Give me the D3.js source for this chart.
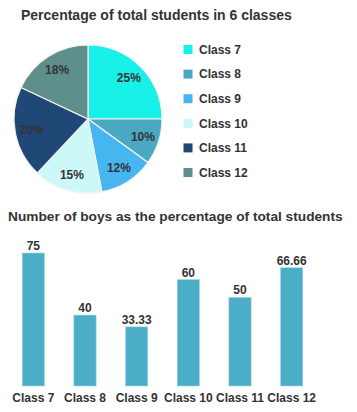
<!DOCTYPE html>
<html><head><meta charset="utf-8">
<script src="https://cdn.jsdelivr.net/npm/d3@7"></script>
<style>
html,body{margin:0;padding:0;background:#fff;}
text{font-family:"Liberation Sans",Arial,sans-serif;font-weight:bold;fill:#333;}
</style></head>
<body><svg id="c" width="357" height="412"></svg>
<script>
const classes = ["Class 7","Class 8","Class 9","Class 10","Class 11","Class 12"];
const totalPct = [25,10,12,15,20,18];
const boysPct = [75,40,33.33,60,50,66.66];
const boysLabels = ["75","40","33.33","60","50","66.66"];
const pieColors = ["#18F0E8","#4BA8C2","#45B6F0","#CCF8F8","#1F4877","#5F8F8B"];
const barColor = "#4BADC6";

const svg = d3.select("#c");

// Pie chart
svg.append("text").attr("x",21).attr("y",20).attr("font-size",14).text("Percentage of total students in 6 classes");
const cx=88, cy=119, R=74;
const pie = d3.pie().sort(null).value(d=>d);
const arcs = pie(totalPct);
const arc = d3.arc().innerRadius(0).outerRadius(R);
const labelArc = d3.arc().innerRadius(R*0.78).outerRadius(R*0.78);
const g = svg.append("g").attr("transform",`translate(${cx},${cy})`);
g.selectAll("path").data(arcs).join("path")
  .attr("d",arc).attr("fill",(d,i)=>pieColors[i])
  .attr("stroke","#f2f2f2").attr("stroke-width",1.2);
g.selectAll("text").data(arcs).join("text")
  .attr("transform",d=>`translate(${labelArc.centroid(d)})`)
  .attr("text-anchor","middle").attr("dy","0.35em").attr("font-size",12)
  .text(d=>d.data+"%");

// Legend
const lg = svg.append("g");
classes.forEach((c,i)=>{
  const y = 45 + i*24.6;
  lg.append("rect").attr("x",183.5).attr("y",y).attr("width",9).attr("height",9).attr("fill",pieColors[i]);
  lg.append("text").attr("x",199).attr("y",y+4.5).attr("dy","0.35em").attr("font-size",12).text(c);
});

// Bar chart
svg.append("text").attr("x",8).attr("y",221).attr("font-size",13.7).text("Number of boys as the percentage of total students");
const x = d3.scaleBand().domain(classes).range([7.5,317.5]).paddingInner(0.57).paddingOuter(0.285);
const y = d3.scaleLinear().domain([0,75]).range([386,253]);
const bg = svg.append("g");
bg.selectAll("rect").data(boysPct).join("rect")
  .attr("x",(d,i)=>x(classes[i])).attr("width",x.bandwidth())
  .attr("y",d=>y(d)).attr("height",d=>y(0)-y(d))
  .attr("fill",barColor).attr("stroke","#9fd6e4").attr("stroke-width",0.6);
bg.selectAll("text.v").data(boysPct).join("text").attr("class","v")
  .attr("x",(d,i)=>x(classes[i])+x.bandwidth()/2).attr("y",d=>y(d)-3)
  .attr("text-anchor","middle").attr("font-size",12).text((d,i)=>boysLabels[i]);
const xAxis = svg.append("g").attr("transform","translate(0,386)")
  .call(d3.axisBottom(x).tickSize(0).tickPadding(7));
xAxis.select(".domain").remove();
xAxis.selectAll("text").attr("font-size",12).attr("font-family",null).attr("fill","#333").attr("dy","0.71em");
</script></body></html>
